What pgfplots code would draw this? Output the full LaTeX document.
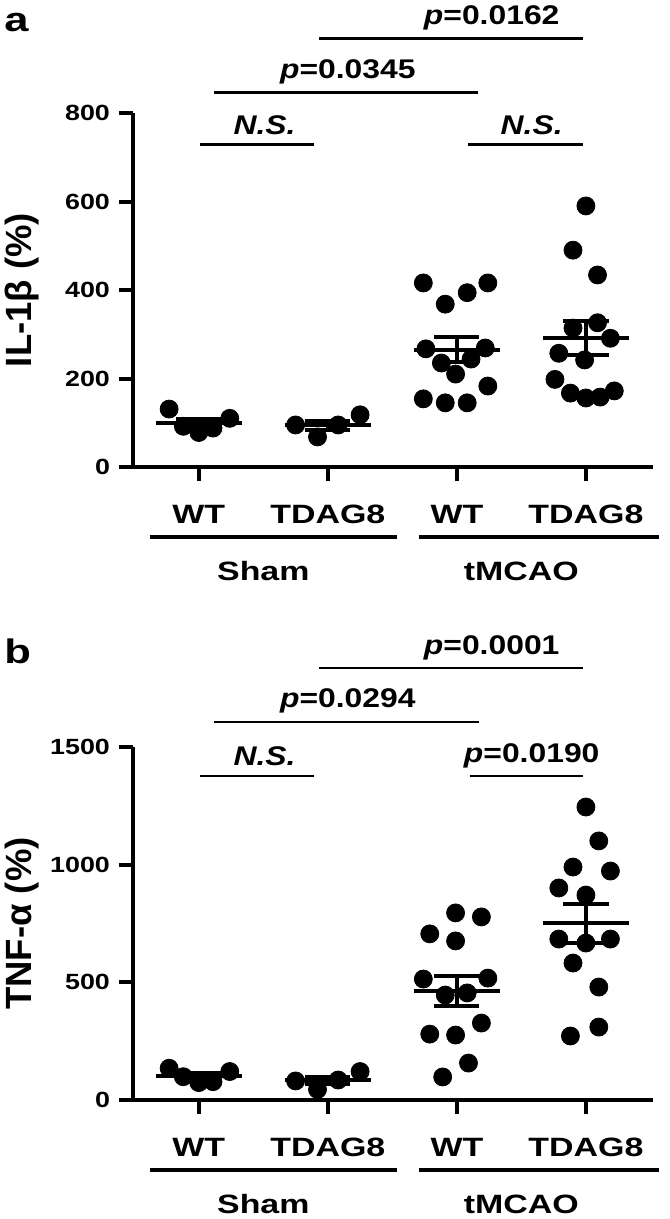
\documentclass[border=0pt]{standalone}
\usepackage{fontspec}
\setmainfont{Liberation Sans}
\newfontfamily\tickfont{Liberation Sans}[FakeStretch=1.22]
\newfontfamily\labfont{Liberation Sans}[FakeStretch=1.28]
\newfontfamily\sigfont{Liberation Sans}[FakeStretch=1.18]
\usepackage{pgfplots}
\pgfplotsset{compat=1.18}
\usepackage{pgfplotstable}

% Panel a (IL-1beta)
\pgfplotstableread{
x y
-0.23 131
-0.12 92
0.00 78
0.11 88
0.24 110
}\aShamWT
\pgfplotstableread{
x y
0.75 95
0.92 68
1.08 95
1.25 118
}\aShamTD
\pgfplotstableread{
x y
1.74 416
1.91 368
2.08 394
2.24 416
1.76 267
2.22 269
1.88 235
2.11 244
1.99 210
2.24 183
1.74 154
1.91 145
2.08 145
}\aMcWT
\pgfplotstableread{
x y
3.00 590
2.90 490
3.09 434
3.09 326
2.90 314
3.19 291
2.79 257
2.99 242
2.76 198
2.88 167
3.00 156
3.11 158
3.22 172
}\aMcTD
% Panel b (TNF-alpha)
\pgfplotstableread{
x y
-0.23 135
-0.12 99
0.00 74
0.11 78
0.24 121
}\bShamWT
\pgfplotstableread{
x y
0.75 81
0.92 45
1.08 85
1.25 121
}\bShamTD
\pgfplotstableread{
x y
1.99 795
2.19 778
1.79 706
1.99 676
1.74 514
2.24 518
1.91 446
2.08 455
2.19 327
1.79 280
1.99 276
2.09 157
1.89 98
}\bMcWT
\pgfplotstableread{
x y
3.00 1245
3.10 1101
2.90 990
3.19 973
2.79 901
3.00 871
2.79 684
3.00 667
3.19 684
2.90 582
3.10 480
3.10 310
2.88 272
}\bMcTD

\pgfplotsset{
  myax/.style={
    scale only axis, width=260pt,
    xmin=-0.51, xmax=3.52, ymin=0,
    axis x line*=bottom, axis y line*=left,
    axis line style={line width=2pt, -},
    every tick/.style={line width=2pt, black},
    major tick length=7pt, tick align=outside,
    xtick={0,1,2,3}, xticklabels={WT,TDAG8,WT,TDAG8},
    xticklabel style={font=\labfont\bfseries\fontsize{13.25}{14}\selectfont, anchor=base, yshift=-21pt},
    yticklabel style={font=\tickfont\bfseries\fontsize{11}{12}\selectfont, xshift=-1pt},
    /pgf/number format/assume math mode=true,
    /pgf/number format/1000 sep={},
    clip=false,
    ylabel style={font=\bfseries\fontsize{18.25}{20}\selectfont, at={(rel axis cs:-0.2135,0.5)}, anchor=center},
  },
  pts/.style={only marks, mark=*, mark size=4.5pt, black},
  msem/.style={black, only marks, mark=-, mark size=21.6pt, mark options={line width=2pt},
    error bars/.cd, y dir=both, y explicit, error bar style={line width=2pt},
    error mark=|, error mark options={mark size=11.3pt, line width=2pt, black}},
}
\tikzset{
  sigbar/.style={line width=1.4pt},
  sigtxt/.style={anchor=base, font=\sigfont\bfseries\fontsize{13.5}{14}\selectfont},
  grp/.style={anchor=base, font=\labfont\bfseries\fontsize{13.25}{14}\selectfont},
}

\begin{document}
\begin{tikzpicture}
\useasboundingbox (0,0) rectangle (334.5pt,-609.5pt);
\node[anchor=base west, inner sep=0, font=\labfont\bfseries\fontsize{17}{18}\selectfont] at (2pt,-16pt) {a};
\node[anchor=base west, inner sep=0, font=\labfont\bfseries\fontsize{17}{18}\selectfont] at (2pt,-331.5pt) {b};

\begin{axis}[myax, at={(66.5pt,-233.5pt)}, anchor=south west, height=177pt,
  ymax=800, ytick={0,200,400,600,800}, ylabel={IL-1β (\%)}]
\addplot[pts] table {\aShamWT};
\addplot[pts] table {\aShamTD};
\addplot[pts] table {\aMcWT};
\addplot[pts] table {\aMcTD};
\addplot[msem] coordinates {(0,100) +- (0,9.4) (1,94) +- (0,10) (2,265) +- (0,28.3) (3,292) +- (0,38.3)};
% significance
\draw[sigbar] (axis cs:0.01,728) -- (axis cs:0.89,728);
\draw[sigbar] (axis cs:2.09,728) -- (axis cs:2.98,728);
\draw[sigbar] (axis cs:0.12,847) -- (axis cs:2.16,847);
\draw[sigbar] (axis cs:0.93,969) -- (axis cs:2.98,969);
\node[sigtxt] at (axis cs:0.51,752) {\itshape N.S.};
\node[sigtxt] at (axis cs:2.58,752) {\itshape N.S.};
\node[sigtxt] at (axis cs:1.155,879) {{\itshape p}=0.0345};
\node[sigtxt] at (axis cs:2.27,1001) {{\itshape p}=0.0162};
% groups
\draw[line width=1.8pt, yshift=-35pt] (axis cs:-0.38,0) -- (axis cs:1.535,0);
\draw[line width=1.8pt, yshift=-35pt] (axis cs:1.705,0) -- (axis cs:3.57,0);
\node[grp, yshift=-56.5pt] at (axis cs:0.5,0) {Sham};
\node[grp, yshift=-56.5pt] at (axis cs:2.5,0) {tMCAO};
\end{axis}

\begin{axis}[myax, at={(66.5pt,-550pt)}, anchor=south west, height=176.5pt,
  ymax=1500, ytick={0,500,1000,1500}, ylabel={TNF-α (\%)}]
\addplot[pts] table {\bShamWT};
\addplot[pts] table {\bShamTD};
\addplot[pts] table {\bMcWT};
\addplot[pts] table {\bMcTD};
\addplot[msem] coordinates {(0,101.4) +- (0,11.9) (1,83) +- (0,15.5) (2,463.5) +- (0,63.7) (3,750.8) +- (0,82)};
% significance
\draw[sigbar] (axis cs:0.01,1377) -- (axis cs:0.89,1377);
\draw[sigbar] (axis cs:2.10,1377) -- (axis cs:2.98,1377);
\draw[sigbar] (axis cs:0.12,1606) -- (axis cs:2.17,1606);
\draw[sigbar] (axis cs:0.93,1836) -- (axis cs:2.98,1836);
\node[sigtxt] at (axis cs:0.51,1420) {\itshape N.S.};
\node[sigtxt] at (axis cs:2.58,1436) {{\itshape p}=0.0190};
\node[sigtxt] at (axis cs:1.155,1666) {{\itshape p}=0.0294};
\node[sigtxt] at (axis cs:2.27,1895) {{\itshape p}=0.0001};
% groups
\draw[line width=1.8pt, yshift=-35pt] (axis cs:-0.38,0) -- (axis cs:1.535,0);
\draw[line width=1.8pt, yshift=-35pt] (axis cs:1.705,0) -- (axis cs:3.57,0);
\node[grp, yshift=-56.5pt] at (axis cs:0.5,0) {Sham};
\node[grp, yshift=-56.5pt] at (axis cs:2.5,0) {tMCAO};
\end{axis}
\end{tikzpicture}
\end{document}
